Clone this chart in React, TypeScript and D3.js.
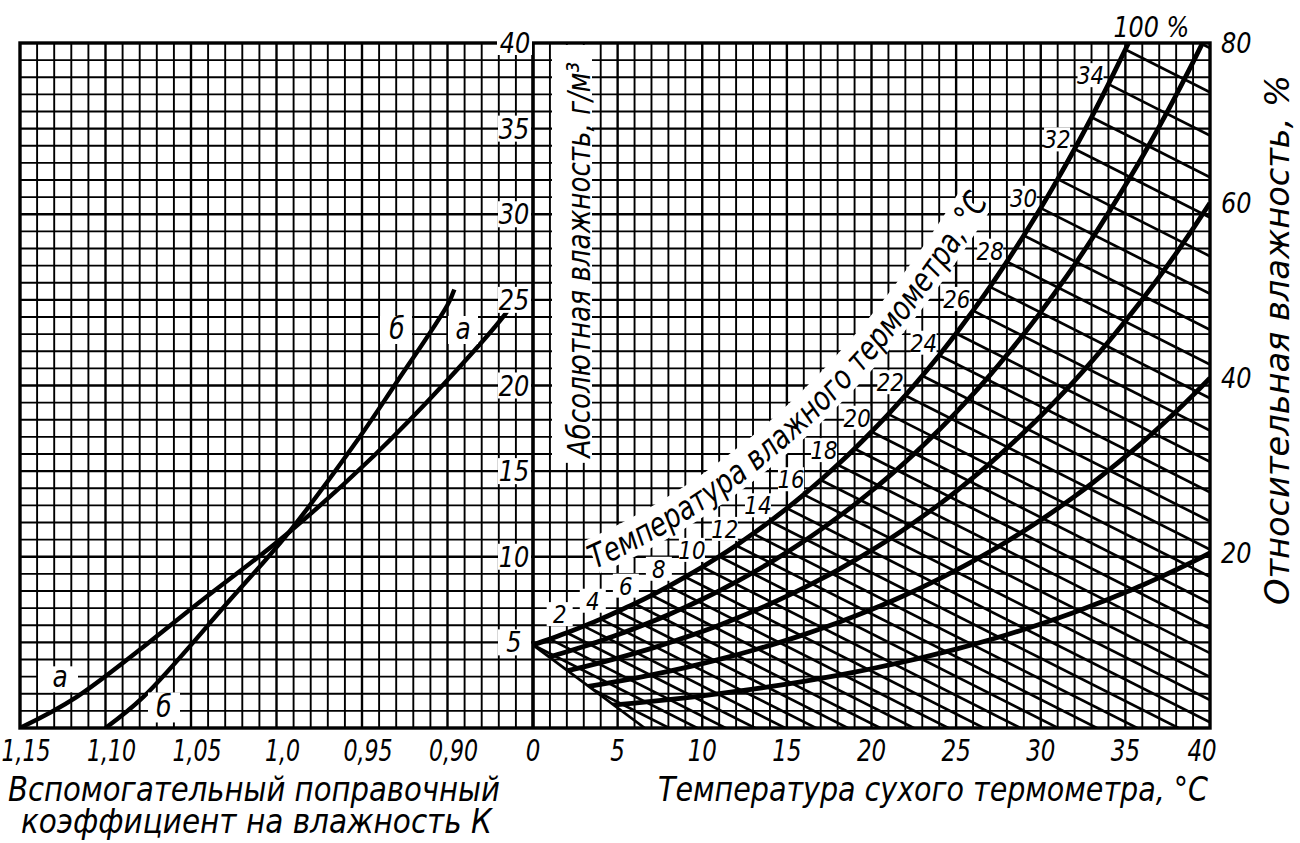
import React from 'react';
import * as d3 from 'd3';

// ---------- data ----------
const satTemps = [0,1,2,3,4,5,6,7,8,9,10,11,12,13,14,15,16,17,18,19,20,21,22,23,24,25,26,27,28,29,30,31,32,33,34,35,36,37,38,39,40];
const satHumidity = [4.85,5.19,5.56,5.95,6.36,6.80,7.26,7.75,8.27,8.82,9.40,10.01,10.66,11.35,12.07,12.83,13.63,14.48,15.37,16.31,17.30,18.33,19.42,20.57,21.77,23.04,24.37,25.76,27.23,28.76,30.36,32.05,33.81,35.66,37.60,39.62,41.70,43.90,46.20,48.60,51.10];
const rhLevels = [100, 80, 60, 40, 20];
const rhRightLabels = [80, 60, 40, 20];
// wet-bulb lines: starting temperature and the humidity at that start
const wetBulbTemps = [-1,0,1,2,3,4,5,6,7,8,9,10,11,12,13,14,15,16,17,18,19,20,21,22,23,24,25,26,27,28,29,30,31,32,33,34,35,36];
const wetBulbStartHum = [4.52,4.85,5.19,5.56,5.95,6.36,6.80,7.26,7.75,8.27,8.82,9.40,10.01,10.66,11.35,12.07,12.83,13.63,14.48,15.37,16.31,17.30,18.33,19.42,20.57,21.77,23.04,24.37,25.76,27.23,28.76,30.36,32.05,33.81,35.66,37.60,39.62,41.70];
const wetBulbLabelTemps = [2,4,6,8,10,12,14,16,18,20,22,24,26,28,30,32,34];
const wetBulbSlope = 0.5; // g/m3 per °C
const hatchBoundaryEndT = 6.6; // lower-left edge of the hatched field reaches 0 g/m3 here
const tempTicks = [0,5,10,15,20,25,30,35,40];
const kTicks = [1.15,1.10,1.05,1.0,0.95,0.90];
const kTickLabels = ['1,15','1,10','1,05','1,0','0,95','0,90'];
const humTicks = [5,10,15,20,25,30,35];
// correction coefficient curves: [K, absolute humidity]
const curveA = [[1.15,0],[1.117,1.8],[1.043,7.5],[0.993,11.4],[0.943,15.9],[0.902,20.1],[0.866,24.2],[0.862,24.8]];
const curveB = [[1.10,0],[1.078,1.8],[1.027,7.5],[0.993,11.4],[0.952,16.9],[0.931,20.0],[0.900,24.7],[0.896,25.6]];

const FONT = "'Liberation Sans Narrow','DejaVu Sans Condensed','DejaVu Sans',sans-serif";

type CTProps = { x: number; y: number; size: number; sx?: number; anchor?: 'start' | 'middle' | 'end'; children: React.ReactNode };
function CText({ x, y, size, sx = 0.92, anchor = 'middle', children }: CTProps) {
  return (
    <text transform={`translate(${x},${y}) scale(${sx},1)`} fontFamily={FONT} fontStyle="italic" fontSize={size} textAnchor={anchor} fill="#000">
      {children}
    </text>
  );
}

export default function App() {
  const xK = d3.scaleLinear().domain([1.15, 0.85]).range([20, 533]);
  const xT = d3.scaleLinear().domain([0, 40]).range([533, 1210]);
  const y = d3.scaleLinear().domain([0, 40]).range([728, 43]);

  const x0 = 20, x1 = 1210, yTop = y(40), yBot = y(0);

  const vLeft = d3.range(1, 30).map(i => ({ x: xK(1.15 - i * 0.01), major: i % 5 === 0 }));
  const vRight = d3.range(1, 40).map(t => ({ x: xT(t), major: t % 5 === 0 }));
  const hLines = d3.range(1, 40).map(v => ({ y: y(v), major: v % 5 === 0 }));

  const lineT = d3.line<[number, number]>().x(d => xT(d[0])).y(d => y(d[1])).curve(d3.curveMonotoneX);
  const rhPaths = rhLevels.map(rh => lineT(satTemps.map((t, i) => [t, satHumidity[i] * rh / 100] as [number, number])));

  const wbLines = wetBulbTemps.map((tw, i) => {
    const s = wetBulbStartHum[i];
    return { x1: xT(tw), y1: y(s), x2: xT(40), y2: y(s - wetBulbSlope * (40 - tw)) };
  });

  const lineK = d3.line<number[]>().x(d => xK(d[0])).y(d => y(d[1])).curve(d3.curveCatmullRom);

  const satPx = satTemps.map((t, i) => [xT(t), y(satHumidity[i])]);
  const normalAt = (i: number) => {
    const a = satPx[Math.max(0, i - 1)], b = satPx[Math.min(satPx.length - 1, i + 1)];
    const dx = b[0] - a[0], dy = b[1] - a[1];
    const L = Math.hypot(dx, dy);
    return [dy / L, -dx / L];
  };
  const offsetPts = (from: number, to: number, off: number) =>
    d3.range(from, to + 1).map(t => {
      const i = satTemps.indexOf(t);
      const n = normalAt(i);
      return [satPx[i][0] + n[0] * off, satPx[i][1] + n[1] * off] as [number, number];
    });
  const smooth = d3.line<[number, number]>().curve(d3.curveCatmullRom);
  const textPts = offsetPts(4, 30, 48);
  const textLen = d3.sum(textPts.slice(1).map((p, i) => Math.hypot(p[0] - textPts[i][0], p[1] - textPts[i][1])));
  const bandPts = offsetPts(5, 29, 60);

  const bx0 = xT(0), by0 = y(satHumidity[0]), bx1 = xT(hatchBoundaryEndT), by1 = y(0);
  const hatchClip = [
    [bx0 - 6, yTop - 5], [bx0 - 6, by0 - 4], [bx0, by0], [bx1, by1], [bx1 + 2, by1 + 6], [xT(40) + 5, by1 + 6], [xT(40) + 5, yTop - 5]
  ].map(p => p.join(',')).join(' ');

  const txt = { fontFamily: FONT, fontStyle: 'italic' as const, fill: '#000' };

  return (
    <svg width={1300} height={843} style={{ position: 'absolute', left: 0, top: 0, background: '#fff' }}>
      <defs>
        <clipPath id="plotClip"><rect x={xT(0)} y={yTop} width={xT(40) - xT(0)} height={yBot - yTop} /></clipPath>
        <clipPath id="leftClip"><rect x={x0} y={yTop} width={xK(0.85) - x0} height={yBot - yTop} /></clipPath>
        <clipPath id="hatchClip"><polygon points={hatchClip} /></clipPath>
        <path id="wbTextPath" d={smooth(textPts) || ''} />
      </defs>
      <rect x={0} y={0} width={1300} height={843} fill="#fff" />

      {/* grid */}
      <g stroke="#000">
        {vLeft.map((d, i) => <line key={'vl' + i} x1={d.x} x2={d.x} y1={yTop} y2={yBot} strokeWidth={d.major ? 2.4 : 1.9} />)}
        {vRight.map((d, i) => <line key={'vr' + i} x1={d.x} x2={d.x} y1={yTop} y2={yBot} strokeWidth={d.major ? 2.4 : 1.9} />)}
        {hLines.map((d, i) => <line key={'h' + i} x1={x0} x2={x1} y1={d.y} y2={d.y} strokeWidth={d.major ? 2.4 : 1.9} />)}
      </g>

      {/* white areas behind rotated captions */}
      <rect x={552} y={yTop + 2} width={40} height={y(15.6) - yTop} fill="#fff" />
      <path d={smooth(bandPts) || ''} fill="none" stroke="#fff" strokeWidth={36} strokeLinecap="butt" />

      {/* border and axis */}
      <rect x={x0} y={yTop} width={x1 - x0} height={yBot - yTop} fill="none" stroke="#000" strokeWidth={3.4} />
      <line x1={xT(0)} x2={xT(0)} y1={yTop} y2={yBot} stroke="#000" strokeWidth={3.6} />

      {/* wet-bulb lines and relative humidity curves */}
      <g clipPath="url(#plotClip)">
        <g clipPath="url(#hatchClip)">
          <g stroke="#000" strokeWidth={2.7}>
            {wbLines.map((l, i) => <line key={'wb' + i} {...l} />)}
          </g>
          <g fill="none" stroke="#000" strokeWidth={4.8}>
            {rhPaths.map((p, i) => <path key={'rh' + i} d={p || ''} />)}
          </g>
        </g>
        <line x1={bx0} y1={by0} x2={bx1} y2={by1} stroke="#000" strokeWidth={2.7} />
      </g>

      {/* K curves */}
      <g clipPath="url(#leftClip)" fill="none" stroke="#000" strokeWidth={4.4}>
        <path d={lineK(curveA) || ''} />
        <path d={lineK(curveB) || ''} />
      </g>

      {/* absolute humidity labels */}
      {humTicks.map(v => (
        <g key={'hy' + v}>
          <rect x={498} y={y(v) - 13} width={33} height={26} fill="#fff" />
          <CText x={514} y={y(v) + 10} size={29}>{v}</CText>
        </g>
      ))}
      <rect x={497} y={yTop - 14} width={35} height={26} fill="#fff" />
      <CText x={515} y={yTop + 10} size={29}>40</CText>

      {/* wet-bulb labels */}
      {wetBulbLabelTemps.map(tw => {
        const i = satTemps.indexOf(tw);
        const n = normalAt(i);
        const cx = satPx[i][0] + n[0] * 20, cy = satPx[i][1] + n[1] * 20;
        return (
          <g key={'wl' + tw}>
            <rect x={cx - 13} y={cy - 12} width={26} height={24} fill="#fff" />
            <CText x={cx} y={cy + 9} size={25} sx={0.95}>{tw}</CText>
          </g>
        );
      })}

      {/* a / б labels */}
      <rect x={380} y={y(23.3) - 13} width={32} height={28} fill="#fff" />
      <CText x={397} y={y(23.3) + 10} size={30}>б</CText>
      <rect x={448} y={y(23.3) - 13} width={30} height={28} fill="#fff" />
      <CText x={463} y={y(23.3) + 10} size={30}>а</CText>
      <rect x={38} y={y(2.9) - 12} width={40} height={26} fill="#fff" />
      <CText x={60} y={y(2.9) + 9} size={30}>а</CText>
      <rect x={148} y={y(1.2) - 15} width={32} height={30} fill="#fff" />
      <CText x={164} y={y(1.2) + 10} size={30}>б</CText>

      {/* wet-bulb caption along the saturation curve */}
      <text {...txt} fontSize={33}>
        <textPath href="#wbTextPath" startOffset={14} textLength={textLen * 0.94} lengthAdjust="spacingAndGlyphs">Температура влажного термометра, °С</textPath>
      </text>

      {/* rotated captions */}
      <text {...txt} fontSize={32} transform={`translate(590, ${y(15.8)}) rotate(-90)`} textLength={y(15.8) - 62} lengthAdjust="spacingAndGlyphs">Абсолютная влажность, г/м³</text>
      <text {...txt} fontSize={33} transform={`translate(1289, 605) rotate(-90)`} textLength={530} lengthAdjust="spacingAndGlyphs">Относительная влажность, %</text>

      {/* relative humidity labels */}
      <CText x={xT(35) - 12} y={37} size={28} anchor="start" sx={0.95}>100 %</CText>
      {rhRightLabels.map(rh => (
        <CText key={'rr' + rh} x={1221} y={y(Math.min(40, satHumidity[40] * rh / 100)) + 10} size={29} anchor="start">{rh}</CText>
      ))}

      {/* bottom tick labels */}
      {kTicks.map((k, i) => <CText key={'kt' + i} x={xK(k) + 6} y={761} size={30} sx={0.82}>{kTickLabels[i]}</CText>)}
      {tempTicks.map(t => <CText key={'tt' + t} x={xT(t) - (t === 40 ? 8 : 0)} y={761} size={30} sx={0.85}>{t}</CText>)}

      {/* axis titles */}
      <g {...txt} fontSize={33}>
        <text x={8} y={801} textLength={492} lengthAdjust="spacingAndGlyphs">Вспомогательный поправочный</text>
        <text x={21} y={833} textLength={471} lengthAdjust="spacingAndGlyphs">коэффициент на влажность К</text>
        <text x={658} y={801} textLength={550} lengthAdjust="spacingAndGlyphs">Температура сухого термометра, °C</text>
      </g>
    </svg>
  );
}
